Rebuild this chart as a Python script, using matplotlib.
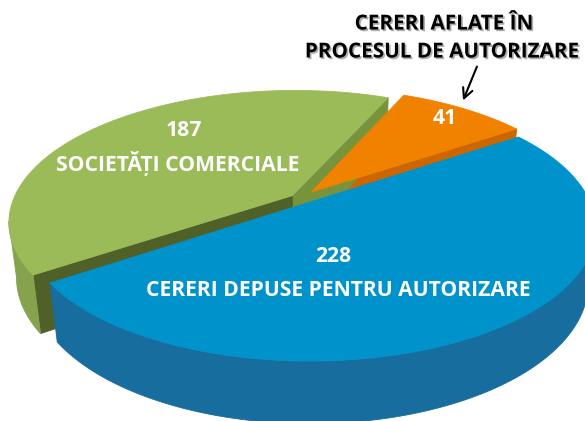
import numpy as np
import matplotlib
matplotlib.use("Agg")
import matplotlib.pyplot as plt
from matplotlib import patheffects as pe

# ---------------- data ----------------
categories = ["CERERI DEPUSE PENTRU AUTORIZARE",
              "CERERI AFLATE ÎN PROCESUL DE AUTORIZARE",
              "SOCIETĂȚI COMERCIALE"]
values = [228, 41, 187]
value_labels = ["228", "41", "187"]
callout_lines = ["CERERI AFLATE ÎN", "PROCESUL DE AUTORIZARE"]

# ---------------- style ----------------
top_colors = ["#0093CB", "#F08200", "#9BBB59"]
outer_colors = ["#176E9E", "#C86400", "#87A24C"]
start_face_colors = ["#145F88", "#CC6600", "#77933C"]
end_face_colors = ["#145F88", "#B85C00", "#4F6128"]
explode = [(0.0, 0.0), (0.004, 0.078), (-0.064, 0.05)]

# projection (pixel space)
CX, CY = 310.0, 202.0
AX, AY = 280.0, 128.0
P = 0.195      # perspective along depth
Q = 0.025      # perspective along height
H = 56.0       # thickness
START = np.deg2rad(-145.7)

FONT = ["Open Sans", "DejaVu Sans"]

fig = plt.figure(figsize=(5.85, 4.21), dpi=100)
ax = fig.add_axes([0, 0, 1, 1])
ax.set_xlim(0, 585)
ax.set_ylim(421, 0)
ax.axis("off")


def proj(t, r, z, off):
    t = np.asarray(t, dtype=float)
    u = r * np.cos(t) + off[0]
    v = r * np.sin(t) + off[1]
    den = 1.0 + P * v + Q * z
    sx = CX + AX * u / den
    sy = CY - (AY * v - H * z) / den
    return np.column_stack([np.atleast_1d(sx), np.atleast_1d(sy)])


vals = np.asarray(values, dtype=float)
edges = START + np.concatenate([[0], np.cumsum(vals)]) / vals.sum() * 2 * np.pi
mids = (edges[:-1] + edges[1:]) / 2
order = np.argsort(-np.sin(mids))  # far slices first

sides = []
for i in order:
    a, b = edges[i], edges[i + 1]
    off = explode[i]
    # radial face at start angle
    if np.sin(a - np.pi / 2) < 0:
        quad = np.vstack([proj(a, 0, 0, off), proj(a, 1, 0, off),
                          proj(a, 1, 1, off), proj(a, 0, 1, off)])
        sides.append((quad, start_face_colors[i]))
    if np.sin(b + np.pi / 2) < 0:
        quad = np.vstack([proj(b, 0, 0, off), proj(b, 1, 0, off),
                          proj(b, 1, 1, off), proj(b, 0, 1, off)])
        sides.append((quad, end_face_colors[i]))
    # outer curved side (front-facing part only)
    t = np.linspace(a, b, 600)
    mask = np.sin(t) < -P
    if mask.any():
        idx = np.where(mask)[0]
        runs = np.split(idx, np.where(np.diff(idx) > 1)[0] + 1)
        for run in runs:
            tt = t[run]
            poly = np.vstack([proj(tt, 1, 0, off), proj(tt[::-1], 1, 1, off)])
            sides.append((poly, outer_colors[i]))

for poly, col in sides:
    ax.fill(poly[:, 0], poly[:, 1], color=col, lw=0.6, ec=col, zorder=1)

for i in order:
    a, b = edges[i], edges[i + 1]
    off = explode[i]
    t = np.linspace(a, b, 600)
    poly = np.vstack([proj(a, 0, 0, off), proj(t, 1, 0, off)])
    ax.fill(poly[:, 0], poly[:, 1], color=top_colors[i], lw=0.6,
            ec=top_colors[i], zorder=2)

# ---------------- labels ----------------
FS = 15.2
lab_style = dict(color="white", fontweight="bold", ha="center", va="center",
                 family=FONT, fontsize=FS, zorder=5)
ax.text(333, 257, value_labels[0], **lab_style)
ax.text(338, 290, categories[0], **lab_style)
ax.text(445, 118, value_labels[1], **lab_style)
ax.text(184, 130, value_labels[2], **lab_style)
ax.text(178, 163, categories[2], **lab_style)

shadow = [pe.withSimplePatchShadow(offset=(1.2, -1.2), shadow_rgbFace="#777777", alpha=0.6)]
ax.text(444, 24, callout_lines[0], color="black", fontweight="bold",
        ha="center", va="center", family=FONT, fontsize=FS - 0.3,
        path_effects=shadow, zorder=5)
ax.text(442, 52, callout_lines[1], color="black", fontweight="bold",
        ha="center", va="center", family=FONT, fontsize=FS - 0.3,
        path_effects=shadow, zorder=5)
ax.annotate("", xy=(462, 103), xytext=(478, 64),
            arrowprops=dict(arrowstyle="->", color="black", lw=1.5,
                            mutation_scale=18), zorder=6)

fig.savefig("out.png", dpi=100)
